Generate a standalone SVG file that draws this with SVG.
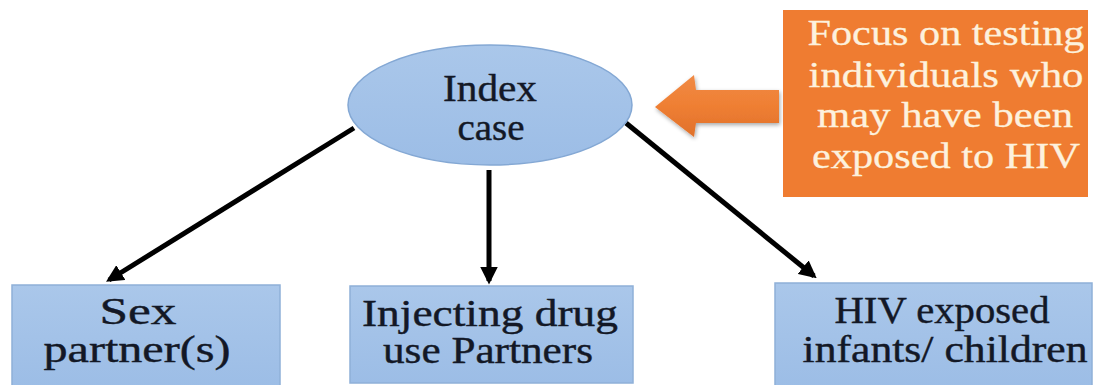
<svg xmlns="http://www.w3.org/2000/svg" width="1097" height="385" viewBox="0 0 1097 385">
  <defs>
    <linearGradient id="blueFill" x1="0" y1="0" x2="0" y2="1">
      <stop offset="0" stop-color="#aac7ea"/>
      <stop offset="1" stop-color="#9cbde6"/>
    </linearGradient>
    <linearGradient id="arrowFill" x1="0" y1="0" x2="0" y2="1">
      <stop offset="0" stop-color="#f08a45"/>
      <stop offset="0.5" stop-color="#ef7f33"/>
      <stop offset="1" stop-color="#e0702a"/>
    </linearGradient>
    <filter id="softShadow" x="-20%" y="-20%" width="140%" height="150%">
      <feGaussianBlur in="SourceAlpha" stdDeviation="2"/>
      <feOffset dx="1" dy="2" result="b"/>
      <feComponentTransfer><feFuncA type="linear" slope="0.35"/></feComponentTransfer>
      <feMerge><feMergeNode/><feMergeNode in="SourceGraphic"/></feMerge>
    </filter>
    <marker id="head" viewBox="0 0 10 10" refX="8" refY="5" markerWidth="3.5" markerHeight="3.5" orient="auto" markerUnits="strokeWidth">
      <path d="M0,0 L10,5 L0,10 z" fill="#000"/>
    </marker>
  </defs>
  <style>
    text { font-family: 'Liberation Serif', 'Times New Roman', Times, serif; text-anchor: middle; }
    .lbl { font-size: 37px; fill: #131826; stroke: #131826; stroke-width: 0.4; }
    .note { font-size: 36px; fill: #fdf1dd; stroke: #fdf1dd; stroke-width: 0.3; }
    .box { fill: url(#blueFill); stroke: #8fb0d8; stroke-width: 1.5; }
    .link { stroke: #000; stroke-width: 5; fill: none; marker-end: url(#head); }
  </style>

  <rect width="1097" height="385" fill="#ffffff"/>

  <!-- connectors -->
  <g id="connectors">
    <line class="link" x1="354" y1="128" x2="109" y2="280"/>
    <line class="link" x1="489" y1="170" x2="489" y2="281"/>
    <line class="link" x1="626" y1="123" x2="814" y2="276"/>
  </g>

  <!-- index case -->
  <g id="index-case">
    <ellipse cx="490" cy="105" rx="142" ry="60" fill="url(#blueFill)" stroke="#84a8d4" stroke-width="1.5"/>
    <text class="lbl" x="490" y="101" textLength="94" lengthAdjust="spacingAndGlyphs">Index</text>
    <text class="lbl" x="491" y="140" textLength="67" lengthAdjust="spacingAndGlyphs">case</text>
  </g>

  <!-- callout arrow -->
  <g id="callout-arrow" filter="url(#softShadow)">
    <path d="M655,107 L694,75 L696,90 L779,90 L779,123 L696,123 L694,137 Z" fill="url(#arrowFill)"/>
  </g>

  <!-- callout box -->
  <g id="callout">
    <rect x="783" y="10" width="305" height="187" fill="#ef7c31"/>
    <text class="note" x="946" y="45" textLength="277" lengthAdjust="spacingAndGlyphs">Focus on testing</text>
    <text class="note" x="946" y="87" textLength="275" lengthAdjust="spacingAndGlyphs">individuals who</text>
    <text class="note" x="945" y="127" textLength="256" lengthAdjust="spacingAndGlyphs">may have been</text>
    <text class="note" x="946" y="168" textLength="268" lengthAdjust="spacingAndGlyphs">exposed to HIV</text>
  </g>

  <!-- partner boxes -->
  <g id="sex-partners">
    <rect class="box" x="12" y="285" width="268" height="104"/>
    <text class="lbl" x="138" y="324" textLength="77" lengthAdjust="spacingAndGlyphs">Sex</text>
    <text class="lbl" x="137" y="362" textLength="187" lengthAdjust="spacingAndGlyphs">partner(s)</text>
  </g>

  <g id="drug-partners">
    <rect class="box" x="350" y="286" width="283" height="97"/>
    <text class="lbl" x="490" y="326" textLength="256" lengthAdjust="spacingAndGlyphs">Injecting drug</text>
    <text class="lbl" x="488" y="363" textLength="210" lengthAdjust="spacingAndGlyphs">use Partners</text>
  </g>

  <g id="exposed-children">
    <rect class="box" x="775" y="283" width="317" height="106"/>
    <text class="lbl" x="942" y="323" textLength="215" lengthAdjust="spacingAndGlyphs">HIV exposed</text>
    <text class="lbl" x="945" y="362" textLength="285" lengthAdjust="spacingAndGlyphs">infants/ children</text>
  </g>
</svg>
